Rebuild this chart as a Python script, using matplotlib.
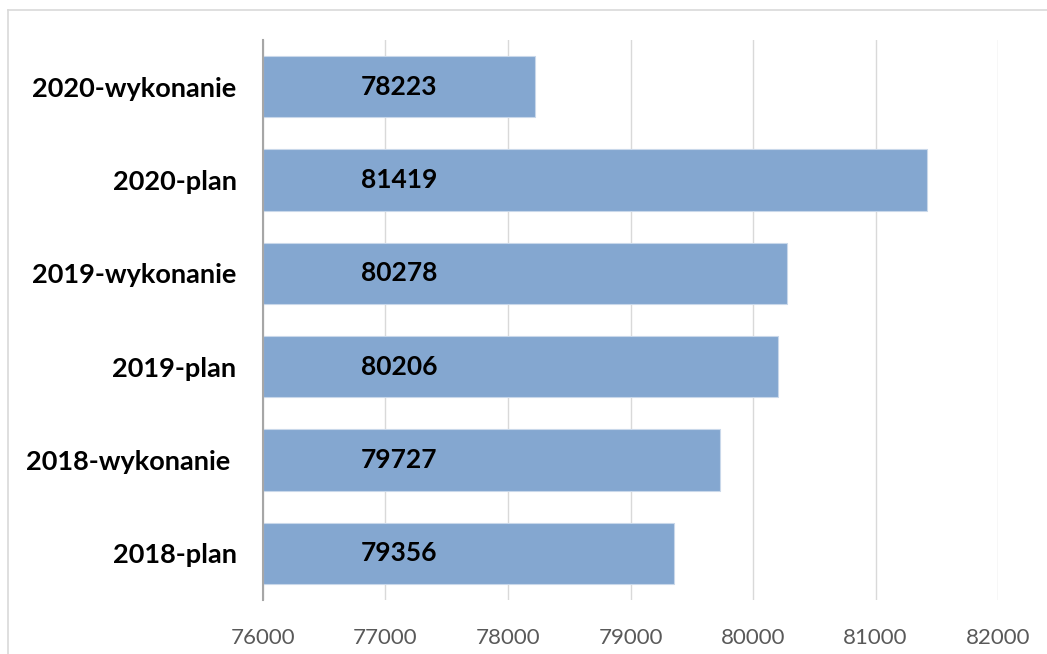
import matplotlib
matplotlib.use('Agg')
import matplotlib.pyplot as plt
from matplotlib.lines import Line2D

categories = ['2018-plan', '2018-wykonanie ', '2019-plan', '2019-wykonanie', '2020-plan', '2020-wykonanie']
values = [79356, 79727, 80206, 80278, 81419, 78223]
xticks = [76000, 77000, 78000, 79000, 80000, 81000, 82000]

plt.rcParams['font.family'] = ['Lato', 'DejaVu Sans']

fig = plt.figure(figsize=(10.47, 6.54), dpi=100)
ax = fig.add_axes([263/1047, 1 - 600/654, (998 - 263)/1047, 560/654])

ypos = range(len(categories))
ax.barh(ypos, [v - 76000 for v in values], left=76000, height=0.66,
        color='#84A7D0', edgecolor='#C9D8EA', linewidth=0.8, zorder=2)

for y, v in zip(ypos, values):
    ax.text(77110, y, str(v), ha='center', va='center', fontsize=19,
            fontweight='bold', color='black', zorder=3)

ax.set_xlim(76000, 82000)
ax.set_ylim(-0.5, len(categories) - 0.5)
ax.set_xticks(xticks)
ax.set_xticklabels([str(t) for t in xticks], fontsize=16, color='#595959')
ax.set_yticks(list(ypos))
ax.set_yticklabels(categories, fontsize=19.5, fontweight='bold', color='black')
ax.tick_params(axis='x', length=0, pad=20)
ax.tick_params(axis='y', length=0, pad=19)
ax.grid(axis='x', color='#D9D9D9', linewidth=1, zorder=0)
ax.set_axisbelow(True)
for s in ['top', 'right', 'bottom']:
    ax.spines[s].set_visible(False)
ax.spines['left'].set_color('#A6A6A6')
ax.spines['left'].set_linewidth(1.5)
ax.spines['left'].set_zorder(4)

# outer chart frame (left and top edges)
fig.add_artist(Line2D([8/1047, 8/1047], [0, 1 - 10/654], color='#D9D9D9', lw=1.2, transform=fig.transFigure))
fig.add_artist(Line2D([8/1047, 1], [1 - 10/654, 1 - 10/654], color='#D9D9D9', lw=1.2, transform=fig.transFigure))

fig.savefig('out.png', dpi=100)
